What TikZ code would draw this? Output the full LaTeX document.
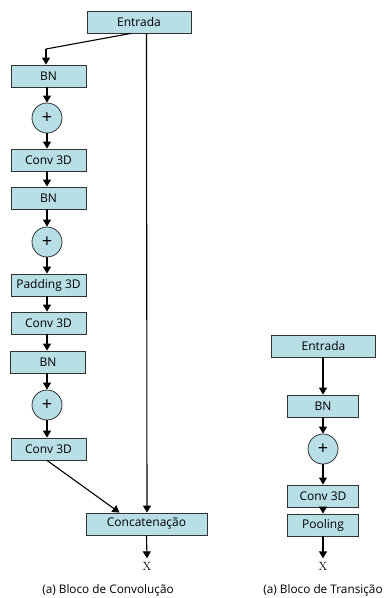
\documentclass[tikz,border=0pt]{standalone}
\usepackage{fontspec}
\setmainfont{Open Sans}
\usetikzlibrary{arrows.meta}
\definecolor{boxfill}{RGB}{184,222,230}
\definecolor{boxline}{RGB}{50,50,50}
\newfontfamily\xserif{Latin Modern Roman}
\tikzset{
  blk/.style={draw=boxline, line width=0.8pt, fill=boxfill, minimum height=22pt, inner sep=0pt, font=\fontsize{12}{12}\selectfont},
  addc/.style={draw=boxline, line width=0.8pt, fill=boxfill, circle, minimum size=30pt, inner sep=0pt, font=\fontsize{18}{18}\selectfont},
  arr/.style={line width=1.1pt, -{Triangle[width=8pt,length=7pt]}},
  outlbl/.style={font=\xserif\fontsize{12}{12}\selectfont},
  captxt/.style={font=\fontsize{11.8}{12}\selectfont}
}
\begin{document}
\begin{tikzpicture}[x=1pt,y=-1pt]
\useasboundingbox (0,0) rectangle (389,598);
% left block
\node[blk, minimum width=104pt] (in) at (139,22) {Entrada};
\node[blk, minimum width=75pt] (bn1) at (48.5,76) {BN};
\node[addc] (p1) at (47,118) {+};
\node[blk, minimum width=75pt] (c1) at (48.5,160) {Conv 3D};
\node[blk, minimum width=75pt] (bn2) at (48.5,198) {BN};
\node[addc] (p2) at (47,242) {+};
\node[blk, minimum width=75pt] (pad) at (48.5,285) {Padding 3D};
\node[blk, minimum width=75pt] (c2) at (48.5,323) {Conv 3D};
\node[blk, minimum width=75pt] (bn3) at (48,362) {BN};
\node[addc] (p3) at (47,405) {+};
\node[blk, minimum width=75pt] (c3) at (48.5,449) {Conv 3D};
\node[blk, minimum width=121pt] (cat) at (146.5,524) {Concatenação};
\node[outlbl] (x1) at (147,566) {X};
\node[captxt] (cap1) at (108,590) {(a) Bloco de Convolução};
\coordinate (k1) at (46,49);
\draw[line width=1.1pt] ([xshift=-8pt]in.south) -- (k1);
\draw[arr] (k1) -- (bn1.north -| k1);
\draw[arr] (bn1.south -| p1) -- (p1);
\draw[arr] (p1) -- (c1.north -| p1);
\draw[arr] (c1.south -| p1) -- (bn2.north -| p1);
\draw[arr] (bn2.south -| p2) -- (p2);
\draw[arr] (p2) -- (pad.north -| p2);
\draw[arr] (pad.south -| p2) -- (c2.north -| p2);
\draw[arr] (c2.south -| p2) -- (bn3.north -| p2);
\draw[arr] (bn3.south -| p3) -- (p3);
\draw[arr] (p3) -- (c3.north -| p3);
\draw[arr] (c3.south -| p3) -- ([xshift=-27pt]cat.north);
\draw[arr] ([xshift=7.5pt]in.south) -- ([xshift=0.5pt]cat.north);
\draw[arr] (cat.south) -- (x1.north);
% right block
\node[blk, minimum width=104pt] (in2) at (323.5,346) {Entrada};
\node[blk, minimum width=71pt] (bn4) at (323,406) {BN};
\node[addc] (p4) at (323,449) {+};
\node[blk, minimum width=71pt] (c4) at (323,496) {Conv 3D};
\node[blk, minimum width=71pt] (pool) at (323,525) {Pooling};
\node[outlbl] (x2) at (323,566) {X};
\node[captxt] (cap2) at (323,590) {(a) Bloco de Transição};
\draw[arr] (in2.south -| p4) -- (bn4.north -| p4);
\draw[arr] (bn4.south -| p4) -- (p4);
\draw[arr] (p4) -- (c4.north -| p4);
\draw[arr] (c4.south -| p4) -- (pool.north -| p4);
\draw[arr] (pool.south -| p4) -- (x2.north);
\end{tikzpicture}
\end{document}
